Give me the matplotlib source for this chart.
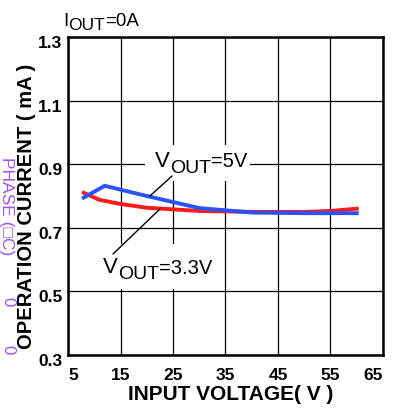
import numpy as np
import matplotlib
matplotlib.use('Agg')
import matplotlib.pyplot as plt
from matplotlib.transforms import Affine2D, ScaledTranslation
from matplotlib.patches import Rectangle

# data
vin_5v = [8, 12, 20, 30, 40, 50, 60]
iq_5v = [0.795, 0.832, 0.800, 0.762, 0.748, 0.746, 0.746]
vin_33v = [8, 11, 15, 20, 30, 40, 50, 55, 60]
iq_33v = [0.810, 0.788, 0.775, 0.763, 0.753, 0.750, 0.750, 0.753, 0.760]
xticks = [5, 15, 25, 35, 45, 55, 65]
yticks = [0.3, 0.5, 0.7, 0.9, 1.1, 1.3]

W, H = 402, 414
plt.rcParams['font.family'] = ['Liberation Sans', 'DejaVu Sans']

fig = plt.figure(figsize=(W / 100, H / 100), dpi=100)
ax = fig.add_axes([68 / W, 1 - 356 / H, (383 - 68) / W, (356 - 38) / H])
px = Affine2D().scale(1, -1).translate(0, H)  # image pixel coords, y down

ax.plot(vin_33v, iq_33v, color='#ff1a1a', lw=2.8, zorder=3, solid_joinstyle='miter')
ax.plot(vin_5v, iq_5v, color='#2a52ff', lw=2.8, zorder=3, solid_joinstyle='miter')

ax.set_xlim(5, 65)
ax.set_ylim(0.3, 1.3)
ax.set_xticks(xticks)
ax.set_yticks(yticks)
ax.set_xticklabels([str(v) for v in xticks], fontsize=12.5, fontweight='bold')
ax.set_yticklabels(['%.1f' % v for v in yticks], fontsize=12.5, fontweight='bold')
ax.tick_params(length=0)
ax.tick_params(axis='x', pad=9)
ax.tick_params(axis='y', pad=4)
labs = ax.get_xticklabels()
labs[0].set_ha('left')
labs[-1].set_ha('right')
for t in ax.get_yticklabels():
    t.set_transform(t.get_transform() + ScaledTranslation(0, -0.04, fig.dpi_scale_trans))
ax.grid(True, color='black', lw=0.9)
ax.set_axisbelow(True)
for s in ax.spines.values():
    s.set_linewidth(1.8)

# white boxes behind the curve labels
for x0, y0, x1, y1 in [(145, 146, 250, 182), (100, 245, 220, 290)]:
    ax.add_patch(Rectangle((x0, y1), x1 - x0, y0 - y1, transform=px, facecolor='white',
                           edgecolor='none', zorder=2, clip_on=False))

# leader lines
ax.annotate('', xy=(20.6, 0.800), xytext=(172, 177), textcoords=px,
            arrowprops=dict(arrowstyle='-', lw=1, color='black', shrinkA=0, shrinkB=0), zorder=4)
ax.annotate('', xy=(22.5, 0.759), xytext=(113, 255), textcoords=px,
            arrowprops=dict(arrowstyle='-', lw=1, color='black', shrinkA=0, shrinkB=0), zorder=4)

renderer = fig.canvas.get_renderer()


def rich(x, parts):
    # parts: (text, size, baseline) placed left to right in image pixels
    for s, size, b in parts:
        t = fig.text(x, b, s, fontsize=size, transform=px, va='baseline', ha='left', zorder=5)
        x = x + t.get_window_extent(renderer).width


rich(63, [('I', 13.5, 26), ('OUT', 12.5, 30), ('=0A', 13.5, 26)])
rich(155, [('V', 16, 167), ('OUT', 14, 173), ('=5V', 14.5, 167)])
rich(103, [('V', 16, 273), ('OUT', 14, 279), ('=3.3V', 14.5, 274)])

fig.text(27, 206, 'OPERATION CURRENT ( mA )', transform=px, rotation=90, ha='center',
         va='center', fontsize=14.5, fontweight='bold')
fig.text(231, 395, 'INPUT VOLTAGE( V )', transform=px, ha='center', va='center',
         fontsize=15, fontweight='bold')

# leftover purple text at the left edge
fig.text(6, 206, 'PHASE (\u25a1C)', transform=px, rotation=-90, ha='center', va='center',
         fontsize=12.5, color='#9a55f0')
fig.text(8, 302, '0', transform=px, rotation=-90, ha='center', va='center',
         fontsize=12, color='#9a55f0')
fig.text(8, 350, '0', transform=px, rotation=-90, ha='center', va='center',
         fontsize=12, color='#9a55f0')

fig.savefig('out.png', dpi=100)
